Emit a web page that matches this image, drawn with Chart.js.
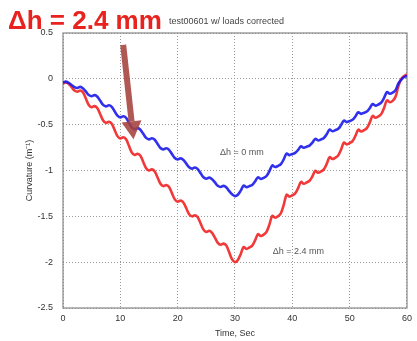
<!DOCTYPE html>
<html><head><meta charset="utf-8">
<script src="https://cdn.jsdelivr.net/npm/chart.js@4/dist/chart.umd.min.js"></script>
<style>html,body{margin:0;padding:0;background:#fff;}#wrap{width:417px;height:341px;}</style>
</head><body><div id="wrap"><canvas id="c" width="417" height="341"></canvas></div>
<script>
const times = [];
for (let i = 0; i <= 120; i++) times.push(i * 0.5);
const xTicks = [0, 10, 20, 30, 40, 50, 60];
const yTicks = [0.5, 0, -0.5, -1, -1.5, -2, -2.5];
const blueDh0 = [
 -0.04,-0.03,-0.045,-0.067,-0.091,
 -0.10,-0.088,-0.105,-0.14,-0.177,
 -0.19,-0.178,-0.195,-0.24,-0.284,
 -0.30,-0.288,-0.305,-0.354,-0.402,
 -0.42,-0.408,-0.425,-0.479,-0.53,
 -0.55,-0.538,-0.555,-0.60,-0.644,
 -0.66,-0.648,-0.665,-0.71,-0.754,
 -0.77,-0.758,-0.775,-0.82,-0.864,
 -0.88,-0.868,-0.885,-0.925,-0.965,
 -0.98,-0.968,-0.985,-1.03,-1.074,
 -1.09,-1.078,-1.095,-1.13,-1.167,
 -1.18,-1.168,-1.185,-1.225,-1.26,
 -1.28,-1.264,-1.22,-1.165,-1.182,
 -1.17,-1.157,-1.12,-1.075,-1.092,
 -1.08,-1.06,-1.008,-0.945,-0.962,
 -0.95,-0.93,-0.878,-0.815,-0.832,
 -0.82,-0.808,-0.776,-0.735,-0.752,
 -0.74,-0.728,-0.696,-0.655,-0.672,
 -0.66,-0.645,-0.605,-0.555,-0.572,
 -0.56,-0.545,-0.505,-0.455,-0.472,
 -0.46,-0.447,-0.41,-0.365,-0.382,
 -0.37,-0.357,-0.32,-0.275,-0.292,
 -0.28,-0.26,-0.208,-0.145,-0.162,
 -0.15,-0.123,-0.05,-0.01,0.02,
 0.03];
const redDh24 = [
 -0.05,-0.04,-0.055,-0.09,-0.127,
 -0.14,-0.128,-0.15,-0.217,-0.285,
 -0.31,-0.298,-0.32,-0.387,-0.455,
 -0.48,-0.468,-0.49,-0.557,-0.625,
 -0.65,-0.638,-0.66,-0.731,-0.803,
 -0.83,-0.818,-0.84,-0.907,-0.975,
 -1.0,-0.988,-1.01,-1.077,-1.145,
 -1.17,-1.158,-1.18,-1.247,-1.315,
 -1.34,-1.328,-1.35,-1.412,-1.476,
 -1.50,-1.488,-1.51,-1.577,-1.645,
 -1.67,-1.658,-1.68,-1.733,-1.789,
 -1.81,-1.798,-1.82,-1.895,-1.97,
 -2.0,-1.976,-1.912,-1.835,-1.855,
 -1.84,-1.819,-1.763,-1.695,-1.715,
 -1.70,-1.67,-1.59,-1.495,-1.515,
 -1.50,-1.466,-1.374,-1.265,-1.285,
 -1.27,-1.249,-1.193,-1.125,-1.145,
 -1.13,-1.112,-1.064,-1.005,-1.025,
 -1.01,-0.988,-0.928,-0.855,-0.875,
 -0.86,-0.836,-0.772,-0.695,-0.715,
 -0.70,-0.679,-0.623,-0.555,-0.575,
 -0.56,-0.538,-0.478,-0.405,-0.425,
 -0.41,-0.385,-0.317,-0.235,-0.255,
 -0.24,-0.196,-0.08,0.0,0.03,
 0.05];

const FONT = "'Liberation Sans', Arial, sans-serif";

const deco = {
  id: 'deco',
  beforeDatasetsDraw(chart) {
    const {ctx, chartArea: a} = chart;
    ctx.save();
    ctx.strokeStyle = '#888';
    ctx.lineWidth = 1.2;
    ctx.strokeRect(a.left, a.top, a.right - a.left, a.bottom - a.top);
    ctx.restore();
  },
  afterDraw(chart) {
    const {ctx} = chart;
    const xs = chart.scales.x, ys = chart.scales.y;
    ctx.save();
    ctx.fillStyle = '#e8231f';
    ctx.font = "bold 26px " + FONT;
    ctx.textBaseline = 'alphabetic';
    ctx.fillText('\u0394h = 2.4 mm', 8, 29);
    ctx.fillStyle = '#444';
    ctx.font = "9px " + FONT;
    ctx.fillText('test00601 w/ loads corrected', 169, 24);
    ctx.fillStyle = '#555';
    ctx.font = "9px " + FONT;
    ctx.textBaseline = 'middle';
    ctx.fillText('\u0394h = 0 mm', xs.getPixelForValue(27.4), ys.getPixelForValue(-0.8));
    ctx.fillText('\u0394h = 2.4 mm', xs.getPixelForValue(36.6), ys.getPixelForValue(-1.88));
    const x0 = xs.getPixelForValue(10.5), y0 = ys.getPixelForValue(0.37);
    const x1 = xs.getPixelForValue(12.3), y1 = ys.getPixelForValue(-0.66);
    const ang = Math.atan2(y1 - y0, x1 - x0);
    const headLen = 18, headW = 10;
    const bx = x1 - headLen * Math.cos(ang), by = y1 - headLen * Math.sin(ang);
    ctx.strokeStyle = 'rgba(165,65,60,0.88)';
    ctx.fillStyle = 'rgba(165,65,60,0.88)';
    ctx.lineWidth = 6;
    ctx.beginPath(); ctx.moveTo(x0, y0); ctx.lineTo(bx, by); ctx.stroke();
    const px = -Math.sin(ang), py = Math.cos(ang);
    ctx.beginPath();
    ctx.moveTo(x1, y1);
    ctx.lineTo(bx + px * headW, by + py * headW);
    ctx.lineTo(bx - px * headW, by - py * headW);
    ctx.closePath(); ctx.fill();
    ctx.restore();
  }
};

new Chart(document.getElementById('c'), {
  type: 'line',
  data: {
    datasets: [
      {data: times.map((t, i) => ({x: t, y: blueDh0[i]})), borderColor: 'rgba(25,25,235,0.9)', borderWidth: 2.6, pointRadius: 0, tension: 0.35, fill: false},
      {data: times.map((t, i) => ({x: t, y: redDh24[i]})), borderColor: 'rgba(240,35,35,0.9)', borderWidth: 2.6, pointRadius: 0, tension: 0.35, fill: false}
    ]
  },
  options: {
    responsive: false, animation: false, devicePixelRatio: 1,
    layout: {padding: {top: 33, right: 6, left: 24, bottom: 0}},
    plugins: {legend: {display: false}, tooltip: {enabled: false}},
    scales: {
      x: {
        type: 'linear', min: 0, max: 60,
        afterBuildTicks: s => { s.ticks = xTicks.map(v => ({value: v})); },
        afterFit: s => { s.height = 33; },
        grid: {color: '#999', drawTicks: false, lineWidth: 1},
        border: {display: false, dash: [1, 2]},
        ticks: {font: {family: FONT, size: 9}, color: '#333', padding: 5, maxRotation: 0, callback: v => String(v)},
        title: {display: true, text: 'Time, Sec', font: {family: FONT, size: 9}, color: '#333', padding: {top: 0, bottom: 2}}
      },
      y: {
        type: 'linear', min: -2.5, max: 0.5,
        afterBuildTicks: s => { s.ticks = yTicks.map(v => ({value: v})); },
        afterFit: s => { s.width = 39; },
        grid: {color: '#999', drawTicks: false, lineWidth: 1},
        border: {display: false, dash: [1, 2]},
        ticks: {font: {family: FONT, size: 9}, color: '#333', padding: 10, callback: v => String(v)},
        title: {display: true, text: 'Curvature (m\u207B\u00B9)', font: {family: FONT, size: 9}, color: '#333', padding: {top: 0, bottom: 0}}
      }
    }
  },
  plugins: [deco]
});
</script></body></html>
